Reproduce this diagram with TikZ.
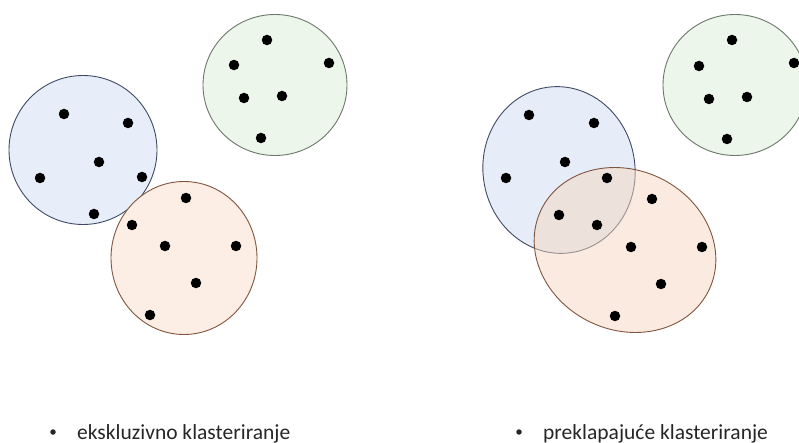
\documentclass[tikz,border=0pt]{standalone}
\usepackage{fontspec}
\setmainfont{Carlito}
\usetikzlibrary{positioning,shapes.geometric}
\definecolor{bluefill}{HTML}{E8EEF9}
\definecolor{blueline}{HTML}{3E4A66}
\definecolor{greenfill}{HTML}{EDF6EA}
\definecolor{greenline}{HTML}{6B786A}
\definecolor{orangefill}{HTML}{FCEEE4}
\definecolor{orangeline}{HTML}{80553F}
\definecolor{bluebase}{HTML}{CDD9F1}
\definecolor{orangebase}{HTML}{F5D6BF}
\tikzset{
  cluster/.style={ellipse, inner sep=0pt, line width=0.9pt},
  blue cluster/.style={cluster, draw=blueline, fill=bluefill},
  green cluster/.style={cluster, draw=greenline, fill=greenfill},
  orange cluster/.style={cluster, draw=orangeline, fill=orangefill},
  point/.style={circle, fill=black, inner sep=0pt, minimum size=10.5pt},
  bullet/.style={circle, fill=black!85, inner sep=0pt, minimum size=5.5pt},
  caption/.style={anchor=base west, inner sep=0pt, font=\fontsize{21.5}{24}\selectfont, text=black!85},
}
\begin{document}
\begin{tikzpicture}[x=1pt,y=-1pt]
\useasboundingbox (0,0) rectangle (799,443);
% exclusive clustering
\node [blue cluster, minimum width=148pt, minimum height=149pt] (lblue) at (83,150) {};
\node [green cluster, minimum width=144pt, minimum height=141pt] (lgreen) at (275,85) {};
\node [orange cluster, minimum width=146pt, minimum height=153pt] (lorange) at (184,258) {};
\node [point] (lb1) at (64,114) {};
\node [point] (lb2) at (128,123) {};
\node [point] (lb3) at (99,162) {};
\node [point] (lb4) at (40,178) {};
\node [point] (lb5) at (142,177) {};
\node [point] (lb6) at (94,214) {};
\node [point] (lg1) at (267,40) {};
\node [point] (lg2) at (234,65) {};
\node [point] (lg3) at (329,63) {};
\node [point] (lg4) at (244,98) {};
\node [point] (lg5) at (282,96) {};
\node [point] (lg6) at (261,138) {};
\node [point] (lo1) at (186,198) {};
\node [point] (lo2) at (132,225) {};
\node [point] (lo3) at (165,246) {};
\node [point] (lo4) at (236,246) {};
\node [point] (lo5) at (196,283) {};
\node [point] (lo6) at (150,315) {};
% overlapping clustering
\node [cluster, draw=blueline, fill=bluebase, fill opacity=0.5, minimum width=152pt, minimum height=167pt, rotate=8] (rblue) at (559,170) {};
\node [cluster, draw=orangeline, fill=orangebase, fill opacity=0.5, minimum width=186pt, minimum height=160pt, rotate=-25] (rorange) at (625,250) {};
\node [green cluster, minimum width=144pt, minimum height=141pt] (rgreen) at (735,85) {};
\node [point] (rb1) at (529,115) {};
\node [point] (rb2) at (594,123) {};
\node [point] (rb3) at (565,162) {};
\node [point] (rb4) at (506,178) {};
\node [point] (rb5) at (607,178) {};
\node [point] (rb6) at (559,215) {};
\node [point] (rb7) at (597,225) {};
\node [point] (ro1) at (652,199) {};
\node [point] (ro2) at (631,247) {};
\node [point] (ro3) at (702,247) {};
\node [point] (ro4) at (661,284) {};
\node [point] (ro5) at (615,316) {};
\node [point] (rg1) at (732,40) {};
\node [point] (rg2) at (699,66) {};
\node [point] (rg3) at (794,63) {};
\node [point] (rg4) at (709,99) {};
\node [point] (rg5) at (747,97) {};
\node [point] (rg6) at (727,139) {};
% captions
\node [bullet] (lbul) at (53,432) {};
\node [caption] (lcap) at (77,439) {ekskluzivno klasteriranje};
\node [bullet] (rbul) at (519,432) {};
\node [caption] (rcap) at (543,439) {preklapajuće klasteriranje};
\end{tikzpicture}
\end{document}
